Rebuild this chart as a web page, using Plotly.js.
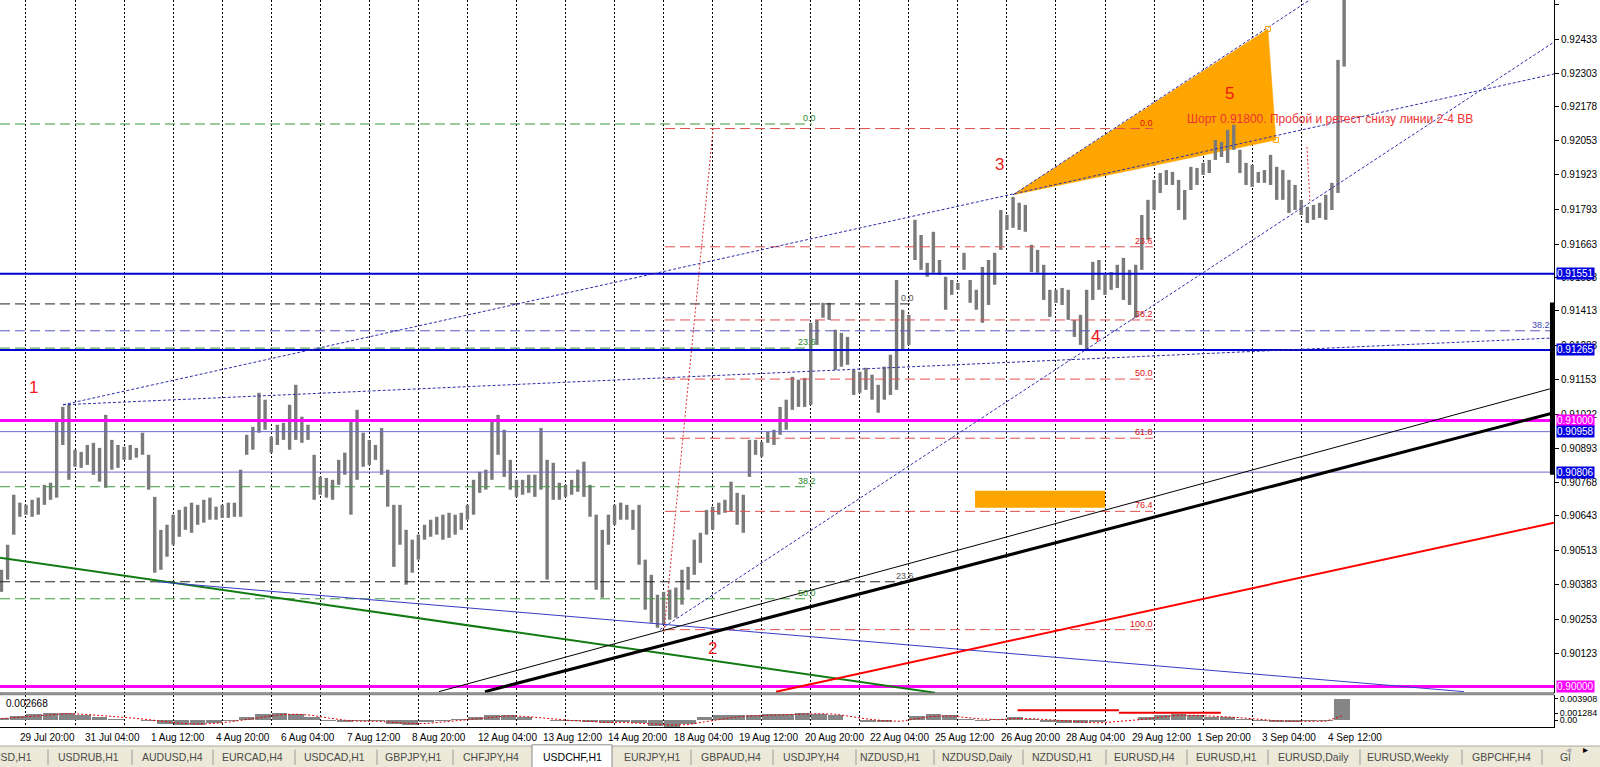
<!DOCTYPE html>
<html><head><meta charset="utf-8">
<script src="https://cdn.plot.ly/plotly-3.0.1.min.js"></script>
<style>html,body{margin:0;padding:0;background:#fff;overflow:hidden}#chart{width:1600px;height:767px}</style>
</head><body><div id="chart"></div><script>
// ---------- DATA (x = H1 bar hours, 0 = 30 Jul 00:00; y = USDCHF price) ----------
const barStartHour = -12, barStepHours = 3;
const barHigh = [0.90439,0.90533,0.90721,0.90691,0.90683,0.90702,0.90710,0.90758,0.90766,0.91003,
0.91051,0.91059,0.90890,0.90882,0.90908,0.90916,0.90897,0.91021,0.90927,0.90908,
0.90901,0.90908,0.90897,0.90954,0.90871,0.90713,0.90589,0.90608,0.90646,0.90664,
0.90676,0.90691,0.90683,0.90702,0.90710,0.90676,0.90683,0.90691,0.90691,0.90815,
0.90946,0.90976,0.91104,0.91078,0.90939,0.90984,0.90991,0.91059,0.91134,0.91014,
0.90984,0.90871,0.90788,0.90784,0.90777,0.90852,0.90879,0.91003,0.91040,0.90954,
0.90927,0.90908,0.90972,0.90815,0.90683,0.90683,0.90589,0.90552,0.90571,0.90608,
0.90627,0.90638,0.90646,0.90653,0.90646,0.90653,0.90683,0.90777,0.90807,0.90815,
0.91003,0.91021,0.90965,0.90852,0.90777,0.90777,0.90796,0.90796,0.90972,0.90852,
0.90841,0.90766,0.90758,0.90777,0.90815,0.90845,0.90758,0.90646,0.90589,0.90646,
0.90683,0.90691,0.90683,0.90664,0.90683,0.90477,0.90420,0.90345,0.90356,0.90364,
0.90372,0.90439,0.90450,0.90552,0.90578,0.90664,0.90676,0.90691,0.90702,0.90770,
0.90728,0.90721,0.90927,0.90927,0.90919,0.90957,0.90965,0.91051,0.91078,0.91164,
0.91153,0.91160,0.91367,0.91378,0.91442,0.91442,0.91341,0.91329,0.91314,0.91190,
0.91183,0.91198,0.91172,0.91134,0.91202,0.91247,0.91528,0.91416,0.91397,0.91754,
0.91697,0.91592,0.91709,0.91603,0.91540,0.91528,0.91517,0.91630,0.91528,0.91491,
0.91577,0.91603,0.91630,0.91791,0.91772,0.91840,0.91818,0.91810,0.91660,0.91641,
0.91585,0.91491,0.91491,0.91498,0.91491,0.91378,0.91397,0.91491,0.91596,0.91603,
0.91547,0.91558,0.91585,0.91611,0.91566,0.91585,0.91772,0.91829,0.91904,0.91930,
0.91941,0.91934,0.91904,0.91866,0.91953,0.91949,0.91968,0.91979,0.92054,0.92047,
0.92092,0.92111,0.92017,0.91968,0.91960,0.91934,0.91941,0.91998,0.91953,0.91941,
0.91904,0.91885,0.91829,0.91803,0.91810,0.91818,0.91848,0.91893,0.92355,0.92620];
const barLow = [0.90356,0.90402,0.90571,0.90638,0.90646,0.90638,0.90646,0.90683,0.90702,0.90710,
0.90908,0.90777,0.90826,0.90822,0.90833,0.90796,0.90770,0.90747,0.90815,0.90822,
0.90852,0.90852,0.90860,0.90871,0.90740,0.90428,0.90439,0.90488,0.90533,0.90563,
0.90589,0.90578,0.90608,0.90616,0.90627,0.90627,0.90634,0.90634,0.90638,0.90638,
0.90871,0.90890,0.90954,0.90965,0.90879,0.90908,0.90927,0.90890,0.90927,0.90916,
0.90927,0.90702,0.90721,0.90710,0.90702,0.90758,0.90796,0.90646,0.90777,0.90826,
0.90833,0.90852,0.90796,0.90676,0.90450,0.90533,0.90383,0.90428,0.90477,0.90552,
0.90563,0.90571,0.90552,0.90559,0.90571,0.90589,0.90627,0.90646,0.90728,0.90740,
0.90777,0.90871,0.90788,0.90740,0.90713,0.90721,0.90728,0.90713,0.90740,0.90402,
0.90702,0.90702,0.90713,0.90721,0.90732,0.90713,0.90638,0.90364,0.90334,0.90533,
0.90608,0.90627,0.90627,0.90589,0.90458,0.90289,0.90240,0.90221,0.90233,0.90251,
0.90259,0.90308,0.90364,0.90420,0.90465,0.90571,0.90589,0.90646,0.90653,0.90657,
0.90608,0.90578,0.90788,0.90871,0.90864,0.90916,0.90908,0.90946,0.90965,0.91040,
0.91051,0.91051,0.91059,0.91284,0.91386,0.91378,0.91190,0.91202,0.91209,0.91096,
0.91104,0.91115,0.91078,0.91029,0.91078,0.91096,0.91115,0.91265,0.91284,0.91603,
0.91566,0.91540,0.91555,0.91547,0.91416,0.91472,0.91491,0.91566,0.91442,0.91416,
0.91367,0.91434,0.91510,0.91641,0.91716,0.91724,0.91716,0.91709,0.91558,0.91555,
0.91453,0.91389,0.91442,0.91434,0.91378,0.91314,0.91284,0.91265,0.91453,0.91491,
0.91472,0.91491,0.91498,0.91453,0.91434,0.91386,0.91566,0.91679,0.91791,0.91855,
0.91885,0.91885,0.91791,0.91754,0.91866,0.91885,0.91923,0.91930,0.91979,0.91990,
0.91968,0.92017,0.91930,0.91885,0.91878,0.91893,0.91893,0.91885,0.91829,0.91829,
0.91780,0.91791,0.91772,0.91742,0.91754,0.91761,0.91754,0.91791,0.91855,0.92330];

// MACD-like sub window (values in 1e-3)
const histStartHour = -12, histStepHours = 8;
const macdHist_e3 = [0.4,0.8,1.1,1.3,1.4,0.9,0.5,0.3,0.1,-0.2,
-0.7,-0.9,-0.8,-0.5,-0.1,0.6,1.2,1.4,1.1,0.6,
-0.2,-0.3,-0.1,-0.2,-0.7,-0.9,-0.4,-0.1,0.2,0.5,
0.9,1.0,0.6,0.1,-0.1,-0.2,-0.3,-0.6,-0.3,-0.5,
-1.0,-1.2,-0.7,0.6,0.9,1.0,1.0,1.1,1.2,1.3,
1.2,0.9,0.1,-0.3,-0.4,0.0,0.8,1.2,0.9,0.2,
-0.1,0.2,0.5,0.3,-0.3,-0.6,-0.6,-0.3,0.0,0.1,
0.6,1.0,1.1,0.9,0.6,0.5,0.3,-0.2,-0.3,-0.3,
-0.2,-0.1,3.9];
const macdSignal_e3 = [0.3,0.5,0.8,1.0,1.2,1.1,0.9,0.6,0.4,0.1,
-0.3,-0.6,-0.7,-0.6,-0.3,0.1,0.6,1.0,1.1,0.9,
0.4,0.0,-0.2,-0.2,-0.4,-0.6,-0.6,-0.3,0.0,0.3,
0.6,0.8,0.7,0.4,0.1,-0.1,-0.2,-0.4,-0.4,-0.5,
-0.7,-0.9,-0.8,-0.3,0.2,0.6,0.8,0.9,1.0,1.1,
1.2,1.1,0.6,0.2,-0.1,-0.2,0.3,0.7,0.8,0.5,
0.2,0.1,0.3,0.3,0.1,-0.2,-0.4,-0.5,-0.3,-0.1,
0.2,0.6,0.9,0.9,0.8,0.6,0.4,0.1,-0.1,-0.2,
-0.2,-0.2,0.8];
const indRedLineHours = [[485.2,534.8],[534.8,584.7]];
const indRedLineValues = [0.00183, 0.00137];
const indTickVals = [0.003908, 0.001284, 0];
const indTickText = ['0.003908','0.001284','0.00'];
const indRange = [-0.00124, 0.0046];

// time axis
const dateLabelHours = [-4,28,60,92,124,156,188,220,252,284,316,348,380,412,444,476,508,540,572,604,636];
const dateLabels = ['29 Jul 20:00','31 Jul 04:00','1 Aug 12:00','4 Aug 20:00','6 Aug 04:00','7 Aug 12:00','8 Aug 20:00',
 '12 Aug 04:00','13 Aug 12:00','14 Aug 20:00','18 Aug 04:00','19 Aug 12:00','20 Aug 20:00','22 Aug 04:00',
 '25 Aug 12:00','26 Aug 20:00','28 Aug 04:00','29 Aug 12:00','1 Sep 20:00','3 Sep 04:00','4 Sep 12:00'];
const tradingDays = 27; // 30 Jul .. 4 Sep day separators
const xRange = [-12.72, 747.7];

// price axis
const priceRange = [0.89976, 0.92580];
const priceTicks = ['0.92563','0.92433','0.92303','0.92178','0.92053','0.91923','0.91793','0.91663','0.91538','0.91413',
 '0.91283','0.91153','0.91022','0.90893','0.90768','0.90643','0.90513','0.90383','0.90253','0.90123'];

// horizontal levels
const hLevels = [0.91551, 0.91265, 0.91000, 0.90958, 0.90806, 0.90000];
const hColors = ['#0000d0','#0000d0','#ff00ff','#6a6ad6','#6a6ad6','#ff00ff'];
const hWidths = [2, 2, 3, 1, 1, 3];
const hBoxColors = ['#0000e0','#0000e0','#ff00ff','#0000e0','#0000e0','#ff00ff'];

// fibonacci objects
const fibRatios = [0, 23.6, 38.2, 50.0, 61.8, 76.4, 100.0];
const greenFib = {p0:0.92114, p100:0.88546, levels:[0,23.6,38.2,50.0], h:[-12.72,384.6]};
const blackFib = {p0:0.91438, p100:0.87014, levels:[0,23.6], h:[-12.72,432.6]};
const redFib   = {p0:0.92097, p100:0.90214, levels:fibRatios, h:[312.7,551.4]};
const blueFibLevel = {price:0.91337, label:'38.2', h:[-12.72,747.7]};

// trend lines [hour0, hour1], [price0, price1]
const lineA = {h:[18.1,747.7], p:[0.91059,0.92302]};
const lineB = {h:[483.0,643.0], p:[0.91848,0.92655]};
const lineC = {h:[18.1,747.7], p:[0.91059,0.91310]};
const lineD = {h:[310.2,747.7], p:[0.90214,0.92422]};
const greenLine = {h:[-12.7,444.8], p:[0.90484,0.89977]};
const blueLine = {h:[64.1,703.6], p:[0.90394,0.89981]};
const blackThin = {h:[202.1,747.7], p:[0.89981,0.91123]};
const blackThick = {h:[224.6,747.7], p:[0.89981,0.91029]};
const redLine = {h:[367.0,747.7], p:[0.89981,0.90616]};
const redDot1 = {h:[312.2,336.2], p:[0.90206,0.92095]};
const redDot2 = {h:[626.8,628.3], p:[0.92028,0.91818]};
const rightBar = {h:[746.7,746.7], p:[0.91443,0.90796]};
const triangleH = [483.0,607.7,611.6], triangleP = [0.91848,0.92471,0.92054];
const rectH = [464.4,528.0], rectP = [0.90672,0.90736];

// wave labels
const waveText = ['1','2','3','4','5'];
const waveH = [3.9,335.7,476.6,523.1,589.1];
const waveP = [0.91123,0.90142,0.91960,0.91314,0.92227];
const noteText = 'Шорт 0.91800. Пробой и ретест снизу линии 2-4 ВВ';
const noteH = 567.1, noteP = 0.92133;

// terminal tabs
const tabNames = ['USD,H1','USDRUB,H1','AUDUSD,H4','EURCAD,H4','USDCAD,H1','GBPJPY,H1','CHFJPY,H4','USDCHF,H1','EURJPY,H1','GBPAUD,H4','USDJPY,H4',
 'NZDUSD,H1','NZDUSD,Daily','NZDUSD,H1','EURUSD,H4','EURUSD,H1','EURUSD,Daily','EURUSD,Weekly','GBPCHF,H4','Gl'];
const activeTab = 'USDCHF,H1';

// ---------- BUILD ----------
const F = 'Liberation Sans, Arial, sans-serif';
const W = 1554; // plot width px (for paper coords of tab strip)
const traces = [];
function seg(h, p, color, width, dash, yaxis) {
  return {type:'scatter', mode:'lines', x:h, y:p, line:{color:color, width:width, dash:dash||'solid'},
          hoverinfo:'skip', showlegend:false, yaxis:yaxis||'y'};
}
// background objects
traces.push({type:'scatter', mode:'lines', x:triangleH.concat([triangleH[0]]), y:triangleP.concat([triangleP[0]]),
  fill:'toself', fillcolor:'#ffa500', line:{color:'#ffa500', width:0.5}, hoverinfo:'skip', showlegend:false});
traces.push({type:'scatter', mode:'lines', x:[rectH[0],rectH[1],rectH[1],rectH[0],rectH[0]], y:[rectP[0],rectP[0],rectP[1],rectP[1],rectP[0]],
  fill:'toself', fillcolor:'#ffa500', line:{color:'#ffa500', width:0}, hoverinfo:'skip', showlegend:false});

// price bars
const bx = [], by = [];
barHigh.forEach((hi, i) => { const t = barStartHour + barStepHours*i; bx.push(t, t, null); by.push(barLow[i], hi, null); });
traces.push({type:'scatter', mode:'lines', x:bx, y:by, line:{color:'#7a7a7a', width:3.4}, hoverinfo:'skip', showlegend:false});

// fib levels
const annotations = [];
function fib(f, color, labelColor, labelShift) {
  f.levels.forEach(r => {
    const p = f.p0 - r/100*(f.p0 - f.p100);
    traces.push(seg(f.h, [p,p], color, 1, '10px,5px'));
    annotations.push({xref:'x', yref:'y', x:f.h[1]+labelShift, y:p, text:r.toFixed(1), xanchor:'right', yanchor:'bottom', yshift:-1,
      showarrow:false, font:{family:F, size:9, color:labelColor}});
  });
}
fib(greenFib, '#3a9a3a', '#2a8a2a', 3);
fib(blackFib, '#222222', '#555555', 3);
fib(redFib, '#e25050', '#dd1111', 1);
traces.push(seg(blueFibLevel.h, [blueFibLevel.price, blueFibLevel.price], '#5a5ac0', 1, '10px,5px'));
annotations.push({xref:'x', yref:'y', x:blueFibLevel.h[1]-1, y:blueFibLevel.price, text:blueFibLevel.label, xanchor:'right', yanchor:'bottom', yshift:-1,
  showarrow:false, font:{family:F, size:9, color:'#4040b0'}});

// horizontal levels
hLevels.forEach((p, i) => traces.push(seg(xRange, [p,p], hColors[i], hWidths[i])));

// trend lines
[lineA, lineB, lineC, lineD].forEach(l => traces.push(seg(l.h, l.p, '#2f2fa8', 1, '3px,2px')));
traces.push(seg(greenLine.h, greenLine.p, '#127a12', 2));
traces.push(seg(blueLine.h, blueLine.p, '#3a3ac8', 1));
traces.push(seg(blackThin.h, blackThin.p, '#000000', 1));
traces.push(seg(blackThick.h, blackThick.p, '#000000', 3));
traces.push(seg(redLine.h, redLine.p, '#ff0000', 2));
traces.push(seg(redDot1.h, redDot1.p, '#e03030', 1, '2px,2px'));
traces.push(seg(redDot2.h, redDot2.p, '#e03030', 1, '2px,2px'));
traces.push(seg(rightBar.h, rightBar.p, '#000000', 4));
traces.push({type:'scatter', mode:'markers', x:[triangleH[1],triangleH[2]], y:[triangleP[1],triangleP[2]],
  marker:{symbol:'square-open', size:5, color:'#ffa500', line:{width:1}}, hoverinfo:'skip', showlegend:false});

// indicator window
const hx = macdHist_e3.map((v, i) => histStartHour + histStepHours*i);
traces.push({type:'bar', x:hx, y:macdHist_e3.map(v => v/1000), width:7.6, yaxis:'y2',
  marker:{color:'#858585', line:{width:0}}, hoverinfo:'skip', showlegend:false});
traces.push(seg(hx, macdSignal_e3.map(v => v/1000), '#e00000', 1, '2px,2px', 'y2'));
indRedLineValues.forEach((v, i) => traces.push(seg(indRedLineHours[i], [v,v], '#ee0000', 2, 'solid', 'y2')));

// wave labels & note
waveText.forEach((t, i) => annotations.push({xref:'x', yref:'y', x:waveH[i], y:waveP[i], text:t, showarrow:false,
  font:{family:F, size:17, color:'#f01818'}}));
annotations.push({xref:'x', yref:'y', x:noteH, y:noteP, text:noteText, xanchor:'left', showarrow:false,
  font:{family:F, size:12, color:'#ee3333'}});

// price label boxes
hLevels.forEach((p, i) => annotations.push({xref:'paper', x:1, xanchor:'left', xshift:2, yref:'y', y:p,
  text:p.toFixed(5), bgcolor:hBoxColors[i], borderpad:0, showarrow:false, font:{family:F, size:10, color:'#ffffff'}}));

// date labels
dateLabels.forEach((t, i) => annotations.push({xref:'x', yref:'paper', x:dateLabelHours[i], y:-0.004, text:t,
  xanchor:'left', yanchor:'top', showarrow:false, font:{family:F, size:10, color:'#000'}}));
annotations.push({xref:'paper', yref:'paper', x:4/W, y:0.033, text:'0.002668', xanchor:'left', yanchor:'middle',
  showarrow:false, font:{family:F, size:10, color:'#000'}});

// tabs
const tabCenters = [12,88,172,252,334,413,491,572,652,731,811,890,977,1062,1144,1226,1313,1408,1501,1558];
const tabSeps = [48,132,213,295,377,453,691,773,856,934,1023,1106,1187,1268,1360,1462,1542];
const tabY = -0.0415;
const shapes = [];
shapes.push({type:'rect', xref:'paper', yref:'paper', x0:0, x1:1600/W, y0:-0.0262, y1:-0.056, fillcolor:'#ece9d8', line:{width:0}, layer:'above'});
shapes.push({type:'line', xref:'paper', yref:'paper', x0:0, x1:1600/W, y0:-0.0262, y1:-0.0262, line:{color:'#aca899', width:1}, layer:'above'});
shapes.push({type:'rect', xref:'paper', yref:'paper', x0:532/W, x1:612/W, y0:-0.0245, y1:-0.056, fillcolor:'#ffffff', line:{color:'#8a8a8a', width:1}, layer:'above'});
tabNames.forEach((t, i) => annotations.push({xref:'paper', yref:'paper', x:tabCenters[i]/W, y:tabY, text:t,
  xanchor:i===tabNames.length-1 ? 'left' : 'center', yanchor:'middle', showarrow:false,
  font:{family:F, size:10.5, color:t===activeTab ? '#000' : '#4a4a4a'}}));
tabSeps.forEach(x => shapes.push({type:'line', xref:'paper', yref:'paper', x0:x/W, x1:x/W, y0:-0.031, y1:-0.052, line:{color:'#9a9a9a', width:1}, layer:'above'}));
annotations.push({xref:'paper', yref:'paper', x:1573/W, y:tabY, text:'◂', showarrow:false, font:{family:F, size:10, color:'#aaa'}});
annotations.push({xref:'paper', yref:'paper', x:1590/W, y:tabY, text:'▸', showarrow:false, font:{family:F, size:10, color:'#000'}});
// window separator
shapes.push({type:'rect', xref:'paper', yref:'paper', x0:0, x1:1, y0:0.0443, y1:0.0472, fillcolor:'#9a9a9a', line:{color:'#555', width:0.6}, layer:'above'});

const dayTicks = [];
for (let d = 0; d < tradingDays; d++) dayTicks.push(24*d);

const layout = {
  width:1600, height:767, margin:{l:0, r:46, t:0, b:40},
  paper_bgcolor:'#ffffff', plot_bgcolor:'#ffffff', showlegend:false, bargap:0,
  xaxis:{range:xRange, anchor:'y2', tickvals:dayTicks, showticklabels:false, ticks:'', showgrid:true,
    gridcolor:'#000000', gridwidth:1, griddash:'2px,2px', zeroline:false, showline:true, linecolor:'#000', linewidth:1, fixedrange:true},
  yaxis:{domain:[0.0468,1], range:priceRange, side:'right', anchor:'x', tickmode:'array', tickvals:priceTicks.map(Number), ticktext:priceTicks,
    ticks:'outside', ticklen:4, tickcolor:'#000', showgrid:false, zeroline:false, showline:true, linecolor:'#000', linewidth:1,
    tickfont:{family:F, size:10, color:'#000'}, automargin:false, fixedrange:true},
  yaxis2:{domain:[0,0.044], range:indRange, side:'right', anchor:'x', tickmode:'array', tickvals:indTickVals, ticktext:indTickText,
    ticks:'outside', ticklen:3, tickcolor:'#000', showgrid:false, zeroline:false, showline:true, linecolor:'#000', linewidth:1,
    tickfont:{family:F, size:9, color:'#000'}, automargin:false, fixedrange:true},
  annotations:annotations, shapes:shapes
};
Plotly.newPlot('chart', traces, layout, {staticPlot:true, displayModeBar:false});
</script></body></html>
